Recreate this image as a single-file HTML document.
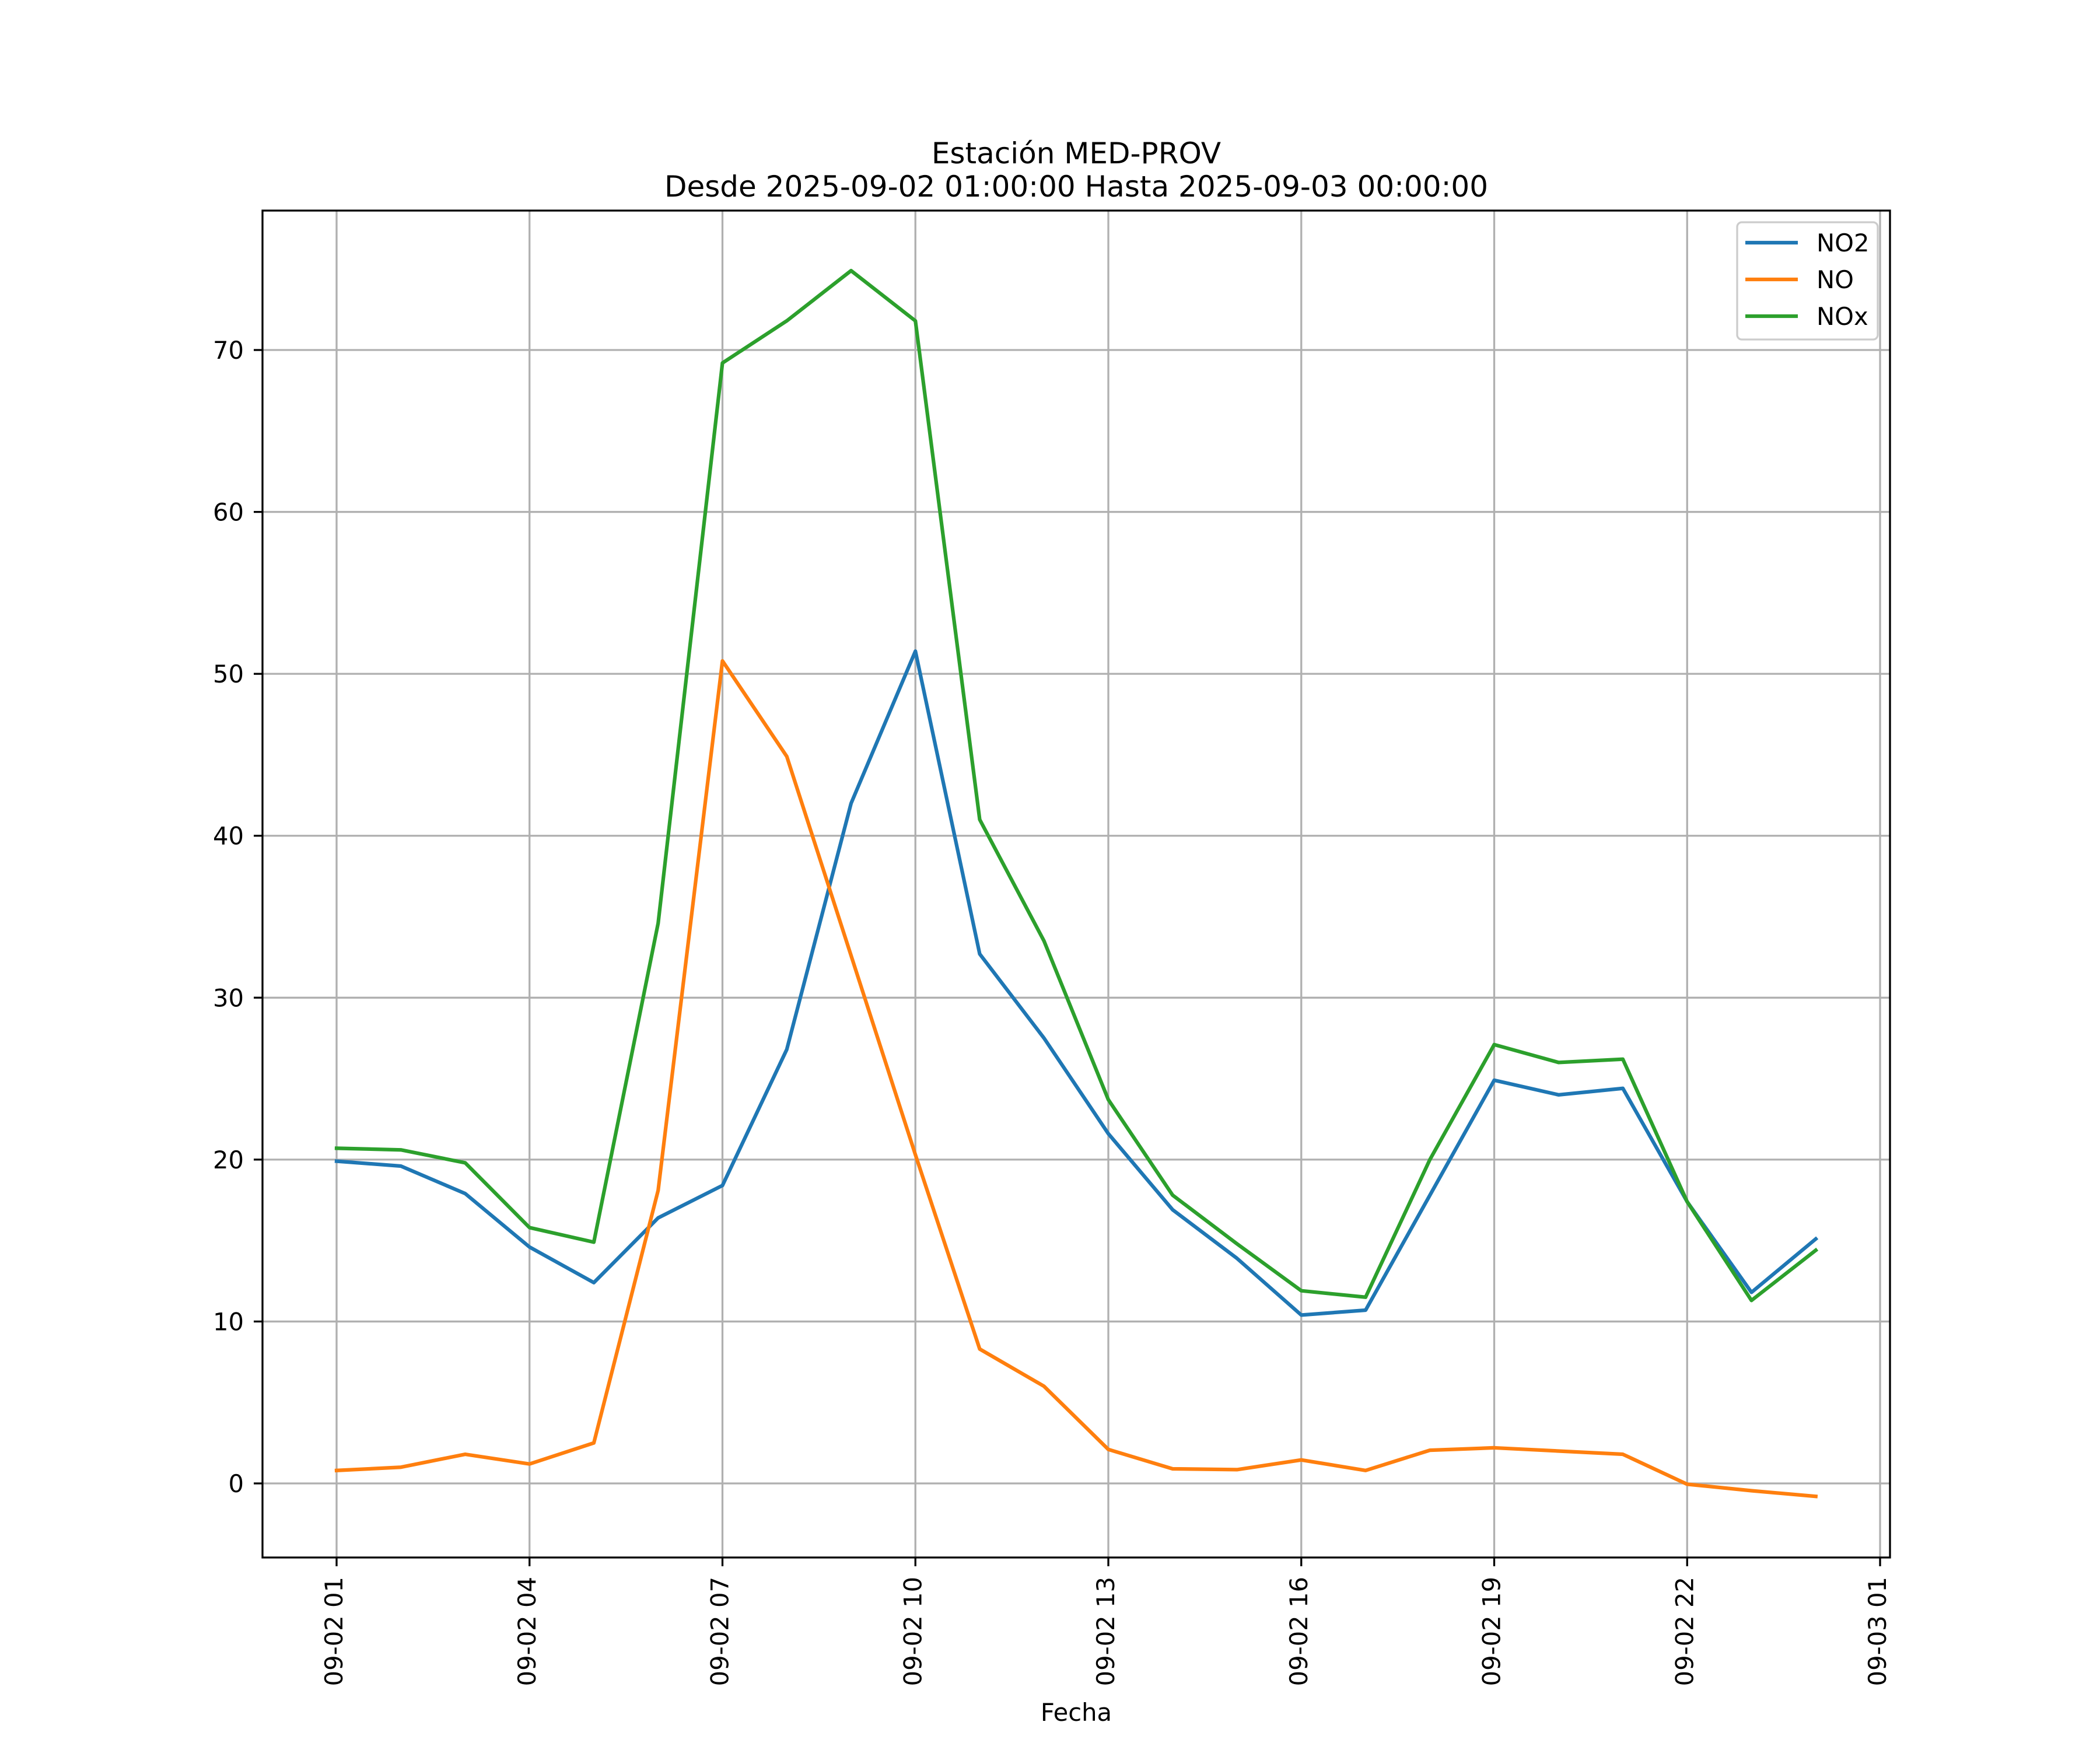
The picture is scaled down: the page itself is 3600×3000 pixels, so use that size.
<!DOCTYPE html>
<html><head><meta charset="utf-8"><style>html,body{margin:0;padding:0;background:#fff}svg{display:block}text{font-family:"DejaVu Sans","Liberation Sans",sans-serif;fill:#000}</style></head>
<body>
<svg id="chart" width="3600" height="3000" viewBox="0 0 3600 3000" xmlns="http://www.w3.org/2000/svg">
<rect width="3600" height="3000" fill="#fff"/>
<text x="1845" y="280" font-size="50" text-anchor="middle">Estación MED-PROV</text>
<text x="1845" y="337" font-size="50" text-anchor="middle">Desde 2025-09-02 01:00:00 Hasta 2025-09-03 00:00:00</text>
<g id="grid"></g>
<g id="ticks"></g>
<g id="series"></g>
<rect x="450" y="361" width="2790" height="2309" fill="none" stroke="#000" stroke-width="3.3"/>
<text x="1845" y="2950" font-size="41.7" text-anchor="middle">Fecha</text>
<g>
<rect x="2978" y="381" width="241" height="201" rx="8" fill="#fff" fill-opacity="0.8" stroke="#ccc" stroke-width="3.3"/>
<g id="legend-items"></g>
</g>
</svg>
<script>
const hours = [1,2,3,4,5,6,7,8,9,10,11,12,13,14,15,16,17,18,19,20,21,22,23,24];
const no2 = [19.9,19.6,17.9,14.6,12.4,16.4,18.4,26.8,42.0,51.4,32.7,27.5,21.6,16.9,13.9,10.4,10.7,17.8,24.9,24.0,24.4,17.4,11.8,15.1];
const no = [0.8,1.0,1.8,1.2,2.5,18.1,50.8,44.9,32.6,20.3,8.3,6.0,2.1,0.9,0.85,1.45,0.8,2.05,2.2,2.0,1.8,-0.05,-0.45,-0.8];
const nox = [20.7,20.6,19.8,15.8,14.9,34.6,69.2,71.8,74.9,71.8,41.0,33.5,23.7,17.8,14.8,11.9,11.5,20.0,27.1,26.0,26.2,17.4,11.3,14.4];
const yTicks = [0,10,20,30,40,50,60,70];
const xTickHours = [1,4,7,10,13,16,19,22,25];
const xTickLabels = ["09-02 01","09-02 04","09-02 07","09-02 10","09-02 13","09-02 16","09-02 19","09-02 22","09-03 01"];
const seriesNames = ["NO2","NO","NOx"];
const seriesColors = ["#1f77b4","#ff7f0e","#2ca02c"];

const X = h => 577 + (h-1)*110.25;
const Y = v => 2543 - v*27.757;
const NS="http://www.w3.org/2000/svg";
function mk(tag, attrs, parent){const e=document.createElementNS(NS,tag);for(const k in attrs)e.setAttribute(k,attrs[k]);parent.appendChild(e);return e;}
const grid=document.getElementById('grid'), ticks=document.getElementById('ticks'), series=document.getElementById('series');
yTicks.forEach(v=>{
  const g=mk('line',{x1:450,x2:3240,y1:Y(v),y2:Y(v),stroke:'#b0b0b0','stroke-width':3.3},grid);
  
  
  mk('line',{x1:435,x2:450,y1:Y(v),y2:Y(v),stroke:'#000','stroke-width':3.3},ticks);
  const t=mk('text',{x:418,y:Y(v)+15,'font-size':41.7,'text-anchor':'end'},ticks);
  t.textContent=v;
  
  
});
xTickHours.forEach((h,i)=>{
  const g=mk('line',{x1:X(h),x2:X(h),y1:361,y2:2670,stroke:'#b0b0b0','stroke-width':3.3},grid);
  
  
  mk('line',{x1:X(h),x2:X(h),y1:2670,y2:2685,stroke:'#000','stroke-width':3.3},ticks);
  const t=mk('text',{x:0,y:0,'font-size':41.7,'text-anchor':'end',transform:`translate(${X(h)+10},2703) rotate(-90)`},ticks);
  t.textContent=xTickLabels[i];
  
  
});
[no2,no,nox].forEach((d,si)=>{
  const p=mk('polyline',{points:d.map((v,i)=>X(hours[i])+','+Y(v)).join(' '),fill:'none',stroke:seriesColors[si],'stroke-width':6.25,'stroke-linejoin':'round','stroke-linecap':'square'},series);
  
  
});
const li=document.getElementById('legend-items');
seriesNames.forEach((n,i)=>{
  const y=416+i*63;
  const l=mk('line',{x1:2992,x2:3082,y1:y,y2:y,stroke:seriesColors[i],'stroke-width':6.25},li);
  
  
  const t=mk('text',{x:3114,y:y+15,'font-size':41.7},li);
  t.textContent=n;
  
  
});
</script>
</body></html>
